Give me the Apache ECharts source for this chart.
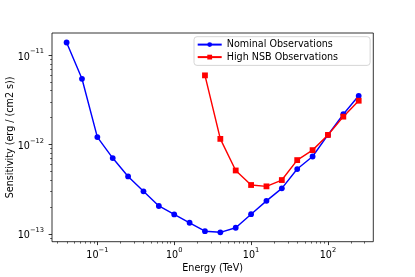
<!DOCTYPE html>
<html><head><meta charset="utf-8">
<script src="https://cdn.jsdelivr.net/npm/echarts@6/dist/echarts.min.js"></script>
<style>html,body{margin:0;padding:0;background:#fff}#c{width:415px;height:277px}</style>
</head><body><div id="c"></div>
<script>
// Data
const nominalEnergy = [0.0398, 0.0631, 0.1, 0.1585, 0.2512, 0.3981, 0.631, 1.0, 1.585, 2.512, 3.981, 6.31, 10, 15.85, 25.12, 39.81, 63.1, 100, 158.5, 251.2];
const nominalSens = [1.386e-11, 5.44e-12, 1.21e-12, 7.05e-13, 4.39e-13, 2.99e-13, 2.05e-13, 1.65e-13, 1.33e-13, 1.07e-13, 1.04e-13, 1.17e-13, 1.66e-13, 2.34e-13, 3.23e-13, 5.31e-13, 7.34e-13, 1.28e-12, 2.18e-12, 3.51e-12];
const nsbEnergy = [2.512, 3.981, 6.31, 10, 15.85, 25.12, 39.81, 63.1, 100, 158.5, 251.2];
const nsbSens = [5.94e-12, 1.156e-12, 5.12e-13, 3.52e-13, 3.40e-13, 4.00e-13, 6.69e-13, 8.65e-13, 1.28e-12, 2.05e-12, 3.09e-12];
const seriesNames = ['Nominal Observations', 'High NSB Observations'];
const xMajorTicks = [0.1, 1, 10, 100];
const yMajorTicks = [1e-13, 1e-12, 1e-11];
const xMinorTicks = [0.03,0.04,0.05,0.06,0.07,0.08,0.09,0.2,0.3,0.4,0.5,0.6,0.7,0.8,0.9,2,3,4,5,6,7,8,9,20,30,40,50,60,70,80,90,200,300];
const yMinorTicks = [9e-14,2e-13,3e-13,4e-13,5e-13,6e-13,7e-13,8e-13,9e-13,2e-12,3e-12,4e-12,5e-12,6e-12,7e-12,8e-12,9e-12];
const xLimits = [Math.pow(10, -1.59), Math.pow(10, 2.59)];
const yLimits = [Math.pow(10, -13.088), Math.pow(10, -10.752)];

const FONT = 'DejaVu Sans';
function pow10Label(v) {
  const e = Math.log10(v);
  const r = Math.round(e);
  if (Math.abs(e - r) > 1e-6) return '';
  return '{b|10}{s|' + String(r).replace('-', '\u2212') + '}';
}
const rich = {
  b: {fontFamily: FONT, fontSize: 9.6, color: '#000', lineHeight: 14, verticalAlign: 'bottom'},
  s: {fontFamily: FONT, fontSize: 6.7, color: '#000', lineHeight: 14, verticalAlign: 'top'}
};

const chart = echarts.init(document.getElementById('c'), null, {renderer: 'canvas'});
const grid = {left: 52, right: 41.7, top: 33, bottom: 35.3, show: true, borderColor: '#000', borderWidth: 0.8, backgroundColor: 'transparent', containLabel: false, outerBoundsMode: 'none'};
const baseX = {type: 'log', logBase: 10, min: xLimits[0], max: xLimits[1], gridIndex: 0, splitLine: {show: false}};
const baseY = {type: 'log', logBase: 10, min: yLimits[0], max: yLimits[1], gridIndex: 0, splitLine: {show: false}};

chart.setOption({
  animation: false,
  textStyle: {fontFamily: FONT},
  grid: grid,
  legend: {
    data: seriesNames,
    orient: 'vertical',
    left: 194, top: 36.7,
    itemWidth: 24, itemHeight: 6, itemGap: 2.5,
    padding: [2.9, 32, 3.3, 2.7],
    backgroundColor: 'rgba(255,255,255,0.8)',
    borderColor: '#cccccc', borderWidth: 0.8, borderRadius: 3,
    textStyle: {fontFamily: FONT, fontSize: 9.6, color: '#000', padding: [0, 0, 0, 0]}
  },
  xAxis: [
    Object.assign({}, baseX, {
      name: 'Energy (TeV)', nameLocation: 'middle', nameGap: 22, nameMoveOverlap: false,
      nameTextStyle: {fontFamily: FONT, fontSize: 9.6, color: '#000'},
      axisLine: {show: false},
      axisTick: {show: true, inside: false, length: 3.4, lineStyle: {color: '#000', width: 0.8}, customValues: xMajorTicks},
      axisLabel: {show: true, margin: 5, formatter: pow10Label, rich: rich, customValues: xMajorTicks}
    }),
    Object.assign({}, baseX, {
      position: 'bottom',
      axisLine: {show: false},
      axisTick: {show: true, inside: false, length: 1.9, lineStyle: {color: '#000', width: 0.6}, customValues: xMinorTicks},
      axisLabel: {show: false}
    })
  ],
  yAxis: [
    Object.assign({}, baseY, {
      name: 'Sensitivity (erg / (cm2 s))', nameLocation: 'middle', nameGap: 37, nameMoveOverlap: false,
      nameTextStyle: {fontFamily: FONT, fontSize: 9.6, color: '#000'},
      axisLine: {show: false},
      axisTick: {show: true, inside: false, length: 3.4, lineStyle: {color: '#000', width: 0.8}, customValues: yMajorTicks},
      axisLabel: {show: true, margin: 8, formatter: pow10Label, rich: rich, customValues: yMajorTicks}
    }),
    Object.assign({}, baseY, {
      position: 'left',
      axisLine: {show: false},
      axisTick: {show: true, inside: false, length: 1.9, lineStyle: {color: '#000', width: 0.6}, customValues: yMinorTicks},
      axisLabel: {show: false}
    })
  ],
  series: [
    {
      name: seriesNames[0], type: 'line', xAxisIndex: 0, yAxisIndex: 0,
      data: nominalEnergy.map((e, i) => [e, nominalSens[i]]),
      symbol: 'circle', symbolSize: 5.8,
      lineStyle: {color: '#0000ff', width: 1.44},
      itemStyle: {color: '#0000ff'},
      color: '#0000ff'
    },
    {
      name: seriesNames[1], type: 'line', xAxisIndex: 0, yAxisIndex: 0,
      data: nsbEnergy.map((e, i) => [e, nsbSens[i]]),
      symbol: 'rect', symbolSize: 5.8,
      lineStyle: {color: '#ff0000', width: 1.44},
      itemStyle: {color: '#ff0000'},
      color: '#ff0000'
    }
  ]
});
</script></body></html>
